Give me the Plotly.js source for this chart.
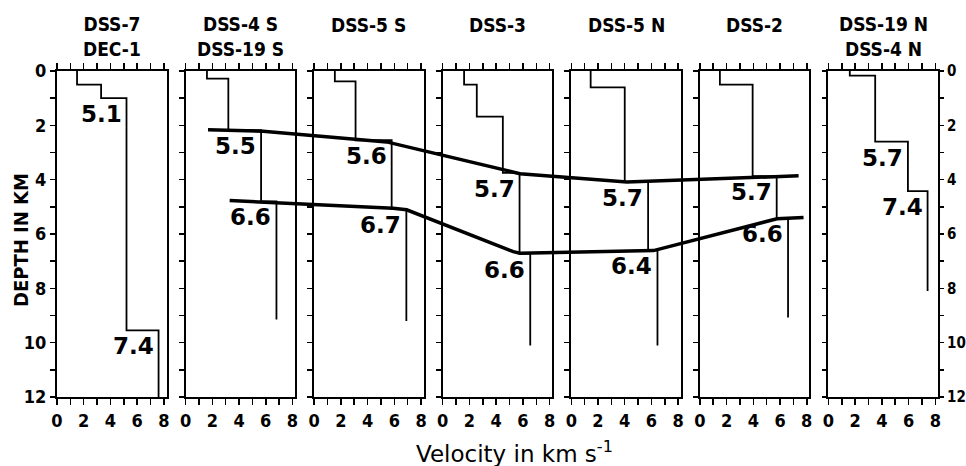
<!DOCTYPE html>
<html>
<head>
<meta charset="utf-8">
<script src="https://cdn.plot.ly/plotly-3.0.1.min.js"></script>
<style>
  html, body { margin: 0; padding: 0; background: #fff; }
  #chart { width: 966px; height: 466px; }
</style>
</head>
<body>
<div id="chart"></div>
<script>
// ---------------- data ----------------
const titleLine1 = ['DSS-7', 'DSS-4 S', 'DSS-5 S', 'DSS-3', 'DSS-5 N', 'DSS-2', 'DSS-19 N'];
const titleLine2 = ['DEC-1', 'DSS-19 S', '', '', '', '', 'DSS-4 N'];

// layer velocities (km/s), layer boundary depths (km, last = end of profile), printed labels
const velDSS7 = [1.5, 3.3, 5.2, 7.6];
const depDSS7 = [0, 0.5, 1.0, 9.55, 12];
const labDSS7 = ['', '', '5.1', '7.4'];

const velDSS4S = [1.6, 3.2, 5.65, 6.8];
const depDSS4S = [0, 0.28, 2.18, 4.8, 9.15];
const labDSS4S = ['', '', '5.5', '6.6'];

const velDSS5S = [1.55, 3.1, 5.8, 6.9];
const depDSS5S = [0, 0.38, 2.55, 5.08, 9.2];
const labDSS5S = ['', '', '5.6', '6.7'];

const velDSS3 = [1.6, 2.55, 4.5, 5.75, 6.55];
const depDSS3 = [0, 0.5, 1.68, 3.75, 6.72, 10.1];
const labDSS3 = ['', '', '', '5.7', '6.6'];

const velDSS5N = [1.45, 4.0, 5.75, 6.45];
const depDSS5N = [0, 0.6, 4.08, 6.6, 10.1];
const labDSS5N = ['', '', '5.7', '6.4'];

const velDSS2 = [1.5, 3.95, 5.75, 6.6];
const depDSS2 = [0, 0.5, 3.87, 5.42, 9.07];
const labDSS2 = ['', '', '5.7', '6.6'];

const velDSS19N = [1.6, 3.5, 5.95, 7.42];
const depDSS19N = [0, 0.17, 2.6, 4.42, 8.1];
const labDSS19N = ['', '', '5.7', '7.4'];

// interfaces traced across the panel strip (position along strip in velocity units, depth km)
const upperPos = [11.30, 15.42, 24.66, 34.64, 42.64, 55.49];
const upperDep = [2.16, 2.22, 2.61, 3.78, 4.09, 3.86];
const lowerPos = [12.92, 25.15, 26.16, 34.14, 34.64, 44.63, 53.87, 55.86];
const lowerDep = [4.77, 5.05, 5.11, 6.65, 6.71, 6.61, 5.44, 5.39];

const velTicks = [0, 2, 4, 6, 8];
const depTicks = [0, 2, 4, 6, 8, 10, 12];

const xTitle = 'Velocity in km s<sup>-1</sup>';
const yTitle = 'DEPTH IN KM';

// ---------------- build ----------------
const vels = [velDSS7, velDSS4S, velDSS5S, velDSS3, velDSS5N, velDSS2, velDSS19N];
const deps = [depDSS7, depDSS4S, depDSS5S, depDSS3, depDSS5N, depDSS2, depDSS19N];
const labs = [labDSS7, labDSS4S, labDSS5S, labDSS3, labDSS5N, labDSS2, labDSS19N];

const N = 7;
const PERIOD = 9.62;   // panel spacing in velocity units
const WIDTH = 8.2;     // panel width in velocity units
const TOTAL = (N - 1) * PERIOD + WIDTH;

const narrowFam = '"Liberation Sans Narrow", "DejaVu Sans Condensed", sans-serif';
const tickFont = { family: narrowFam, size: 18, color: '#000', weight: 'bold' };
const rightTickFont = { family: narrowFam, size: 15, color: '#000', weight: 'bold' };
const titleFont = { family: narrowFam, size: 19, color: '#000', weight: 'bold' };
const heavy = { family: '"DejaVu Sans", sans-serif', size: 23, color: '#000', weight: 'bold' };

const data = [];
const layout = {
  width: 966, height: 466,
  margin: { l: 57, r: 28, t: 71, b: 69 },
  paper_bgcolor: '#fff', plot_bgcolor: 'rgba(0,0,0,0)',
  showlegend: false,
  annotations: []
};

for (let k = 0; k < N; k++) {
  const id = k + 1;
  const xs = id === 1 ? '' : String(id);
  const last = k === N - 1;
  const d0 = k * PERIOD / TOTAL, d1 = (k * PERIOD + WIDTH) / TOTAL;
  layout['xaxis' + xs] = {
    domain: [d0, d1], range: [0, WIDTH], anchor: 'y' + xs,
    showline: true, linewidth: 2, linecolor: '#000', mirror: 'ticks',
    ticks: 'outside', ticklen: 6, tickwidth: 1.5, tickcolor: '#000',
    tickmode: 'array', tickvals: velTicks,
    minor: { dtick: 1, tick0: 0, ticks: 'outside', ticklen: 6, tickwidth: 1.5, tickcolor: '#000', showgrid: false },
    tickfont: tickFont, showgrid: false, zeroline: false, fixedrange: true
  };
  layout['yaxis' + xs] = {
    domain: [0, 1], range: [12, 0], anchor: 'x' + xs,
    side: last ? 'right' : 'left',
    showline: true, linewidth: 2, linecolor: '#000',
    mirror: last ? 'ticks' : true,
    ticks: 'outside', ticklen: last ? 4 : 5, tickwidth: 1.5, tickcolor: '#000',
    tickmode: 'array', tickvals: depTicks,
    minor: { dtick: 1, tick0: 0, ticks: 'outside', ticklen: last ? 4 : 5, tickwidth: 1.5, tickcolor: '#000', showgrid: false },
    showticklabels: k === 0 || last,
    tickfont: last ? rightTickFont : tickFont, showgrid: false, zeroline: false, fixedrange: true
  };

  // step profile
  const v = vels[k], d = deps[k];
  const px = [], py = [];
  for (let i = 0; i < v.length; i++) {
    px.push(v[i], v[i]);
    py.push(d[i], d[i + 1]);
  }
  data.push({
    type: 'scatter', mode: 'lines', x: px, y: py,
    xaxis: 'x' + xs, yaxis: 'y' + xs,
    line: { color: '#000', width: 1.8 }, hoverinfo: 'skip'
  });

  // velocity labels
  labs[k].forEach((t, i) => {
    if (!t) return;
    layout.annotations.push({
      text: t, x: v[i], y: d[i], xref: 'x' + xs, yref: 'y' + xs,
      xanchor: 'right', yanchor: 'middle', xshift: -3, yshift: -16,
      showarrow: false, font: heavy
    });
  });

  // panel titles
  const two = !!titleLine2[k];
  layout.annotations.push({
    text: two ? titleLine1[k] + '<br>' + titleLine2[k] : titleLine1[k],
    xref: 'x' + xs + ' domain', x: 0.5, yref: 'paper', y: 1,
    xanchor: 'center', yanchor: 'middle', yshift: two ? 35 : 46,
    showarrow: false, font: titleFont
  });
}

// overlay strip axis for the interfaces
layout.xaxis8 = { domain: [0, 1], range: [0, TOTAL], anchor: 'y8', visible: false, fixedrange: true };
layout.yaxis8 = { domain: [0, 1], range: [12, 0], anchor: 'x8', visible: false, fixedrange: true };
data.push({ type: 'scatter', mode: 'lines', x: upperPos, y: upperDep, xaxis: 'x8', yaxis: 'y8',
  line: { color: '#000', width: 3.5 }, hoverinfo: 'skip' });
data.push({ type: 'scatter', mode: 'lines', x: lowerPos, y: lowerDep, xaxis: 'x8', yaxis: 'y8',
  line: { color: '#000', width: 3.5 }, hoverinfo: 'skip' });

// axis titles
layout.annotations.push({
  text: xTitle, xref: 'paper', yref: 'paper', x: 0.519, y: 0, xanchor: 'center', yanchor: 'middle',
  yshift: -55, showarrow: false,
  font: { family: '"DejaVu Sans", sans-serif', size: 23, color: '#000' }
});
layout.annotations.push({
  text: yTitle, xref: 'paper', yref: 'paper', x: 0, y: 0.5, xanchor: 'center', yanchor: 'middle',
  xshift: -36, yshift: -6, textangle: -90, showarrow: false, font: Object.assign({}, titleFont, { size: 20 })
});

Plotly.newPlot('chart', data, layout, { displayModeBar: false, staticPlot: true });
</script>
</body>
</html>
